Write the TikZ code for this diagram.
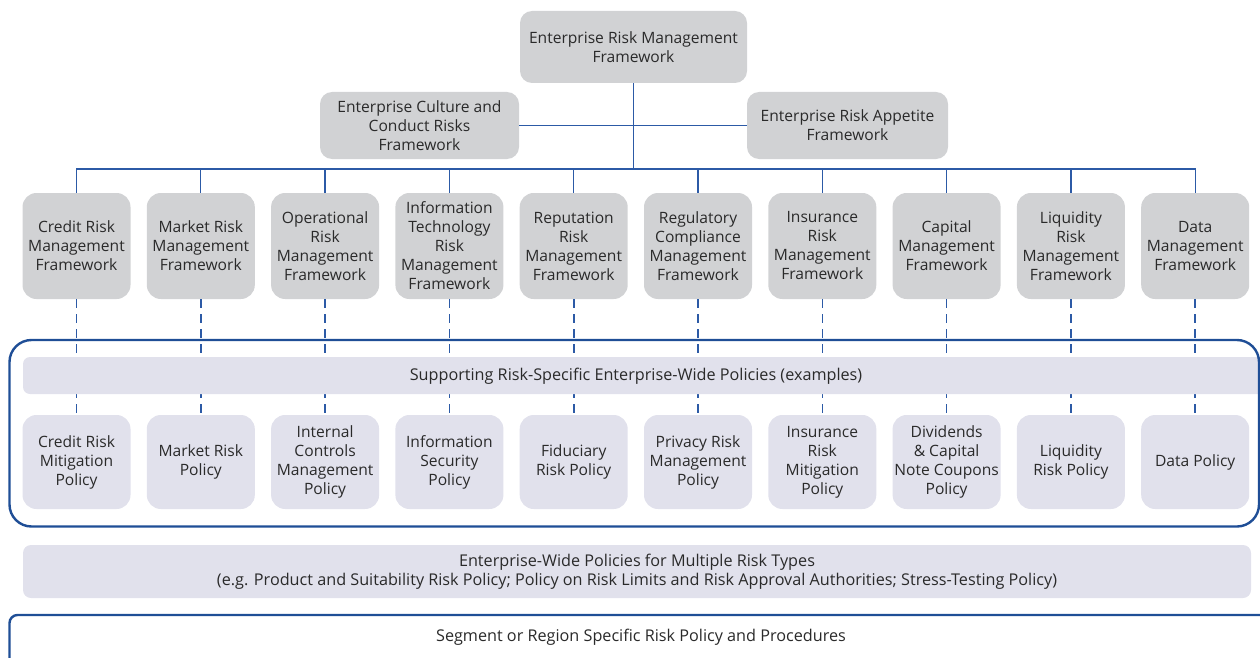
\documentclass[tikz,border=0pt]{standalone}
\usepackage{fontspec}
\setmainfont{Open Sans}
\definecolor{fwgrey}{HTML}{D1D2D4}
\definecolor{polfill}{HTML}{E1E1EC}
\definecolor{lineblue}{HTML}{2C5AA6}
\definecolor{frameblue}{HTML}{1F4E96}
\definecolor{txt}{HTML}{2A2A2A}
\tikzset{
  fw/.style={fill=fwgrey, rounded corners=14pt, minimum width=108pt, minimum height=106pt, align=center, inner sep=0pt, text=txt, font=\fontsize{15.6}{19}\selectfont},
  topbox/.style={fill=fwgrey, rounded corners=12pt, align=center, inner sep=0pt, text=txt, font=\fontsize{15.6}{19}\selectfont},
  pol/.style={fill=polfill, rounded corners=14pt, minimum width=108pt, minimum height=94pt, align=center, inner sep=0pt, text=txt, font=\fontsize{15.6}{19}\selectfont},
  plain/.style={align=center, inner sep=0pt, text=txt, font=\fontsize{16.2}{19}\selectfont},
  solidline/.style={draw=lineblue, line width=1.3pt},
  dashline/.style={draw=lineblue, line width=1.6pt, dash pattern=on 9pt off 6pt},
  outline/.style={draw=frameblue, line width=2.4pt}
}
\begin{document}
\begin{tikzpicture}[x=1pt,y=-1pt]
\useasboundingbox (0,0) rectangle (1260,658);

% top level
\node[topbox, minimum width=227pt, minimum height=72pt] (top) at (633.5,47) {Enterprise Risk Management\\Framework};
\node[topbox, minimum width=199pt, minimum height=67pt] (cult) at (419.5,125.5) {Enterprise Culture and\\Conduct Risks\\Framework};
\node[topbox, minimum width=201pt, minimum height=67pt] (app) at (847.5,125.5) {Enterprise Risk Appetite\\Framework};

% framework row
\node[fw] (f1) at (76.5,246) {Credit Risk\\Management\\Framework};
\node[fw] (f2) at (200.8,246) {Market Risk\\Management\\Framework};
\node[fw] (f3) at (325.1,246) {Operational\\Risk\\Management\\Framework};
\node[fw] (f4) at (449.4,246) {Information\\Technology\\Risk\\Management\\Framework};
\node[fw] (f5) at (573.7,246) {Reputation\\Risk\\Management\\Framework};
\node[fw] (f6) at (698,246) {Regulatory\\Compliance\\Management\\Framework};
\node[fw] (f7) at (822.3,246) {Insurance\\Risk\\Management\\Framework};
\node[fw] (f8) at (946.6,246) {Capital\\Management\\Framework};
\node[fw] (f9) at (1070.9,246) {Liquidity\\Risk\\Management\\Framework};
\node[fw] (f10) at (1195.2,246) {Data\\Management\\Framework};

% policy row
\node[pol] (p1) at (76.5,462) {Credit Risk\\Mitigation\\Policy};
\node[pol] (p2) at (200.8,462) {Market Risk\\Policy};
\node[pol] (p3) at (325.1,462) {Internal\\Controls\\Management\\Policy};
\node[pol] (p4) at (449.4,462) {Information\\Security\\Policy};
\node[pol] (p5) at (573.7,462) {Fiduciary\\Risk Policy};
\node[pol] (p6) at (698,462) {Privacy Risk\\Management\\Policy};
\node[pol] (p7) at (822.3,462) {Insurance\\Risk\\Mitigation\\Policy};
\node[pol] (p8) at (946.6,462) {Dividends\\\& Capital\\Note Coupons\\Policy};
\node[pol] (p9) at (1070.9,462) {Liquidity\\Risk Policy};
\node[pol] (p10) at (1195.2,462) {Data Policy};

% solid connectors
\coordinate (bus) at (633.5,169);
\draw[solidline] (top.south) -- (bus);
\draw[solidline] (cult.east) -- (app.west);
\draw[solidline] (f1.north) -- (f1.north |- bus) -- (f10.north |- bus) -- (f10.north);
\foreach \i in {2,...,9} {\draw[solidline] (f\i.north) -- (f\i.north |- bus);}

% dashed connectors
\foreach \i in {1,...,10} {\draw[dashline] (f\i.south) -- (p\i.north);}

% supporting band and outline
\fill[polfill, rounded corners=7pt] (23,357) rectangle (1300,394);
\node[plain] (supp) at (636,376) {Supporting Risk-Specific Enterprise-Wide Policies (examples)};
\draw[outline, rounded corners=22pt] (9.5,340) rectangle (1259,526.5);

% enterprise-wide band
\node[fill=polfill, rounded corners=8pt, minimum width=1228pt, minimum height=53pt, align=center, inner sep=0pt, text=txt, font=\fontsize{16.2}{18.5}\selectfont] (ew) at (637,571.5) {Enterprise-Wide Policies for Multiple Risk Types\\(e.g. Product and Suitability Risk Policy; Policy on Risk Limits and Risk Approval Authorities; Stress-Testing Policy)};

% bottom box
\draw[outline, fill=white, rounded corners=8pt] (9.5,615) rectangle (1300,720);
\node[plain] (seg) at (641,637) {Segment or Region Specific Risk Policy and Procedures};
\end{tikzpicture}
\end{document}
